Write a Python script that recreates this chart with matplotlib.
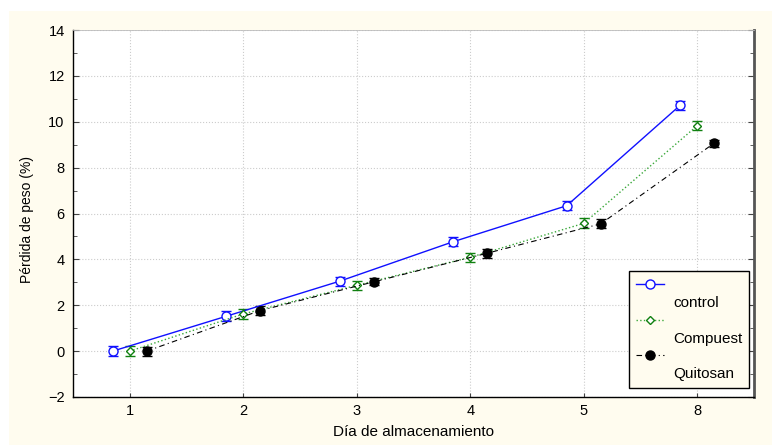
import numpy as np
import matplotlib
matplotlib.use('Agg')
import matplotlib.pyplot as plt
from matplotlib.patches import Rectangle
from matplotlib.lines import Line2D

plt.rcParams['font.family'] = ['Liberation Sans', 'DejaVu Sans']

# data
dias = ['1', '2', '3', '4', '5', '8']
series = ['control', 'Compuest', 'Quitosan']
control = [0.0, 1.52, 3.05, 4.77, 6.34, 10.72]
control_err = [0.22, 0.22, 0.2, 0.2, 0.2, 0.2]
compuest = [0.0, 1.62, 2.87, 4.09, 5.57, 9.83]
compuest_err = [0.22, 0.2, 0.2, 0.2, 0.22, 0.2]
quitosan = [0.0, 1.77, 3.02, 4.27, 5.55, 9.07]
quitosan_err = [0.2, 0.2, 0.15, 0.2, 0.2, 0.15]

fig = plt.figure(figsize=(7.72, 4.45), dpi=100)
# cream background panel
fig.patches.append(Rectangle((9/772, 0), 1 - 9/772, 1 - 11/445, transform=fig.transFigure,
                             facecolor='#fffcef', edgecolor='none', zorder=-10))

ax = fig.add_axes([73/772, 1 - 397/445, (754 - 73)/772, (397 - 30)/445])
ax.set_facecolor('white')

x = np.arange(1, len(dias) + 1)
off = 0.15

styles = [
    dict(color='#1010ff', linestyle='-', linewidth=1, marker='o', markersize=6.5,
         markerfacecolor='white', markeredgecolor='#1010ff', markeredgewidth=1),
    dict(color='#3aa83a', linestyle=':', linewidth=1, marker='D', markersize=4.5,
         markerfacecolor='white', markeredgecolor='#108010', markeredgewidth=1),
    dict(color='black', linestyle=(0, (5, 3, 1, 3)), linewidth=0.8, marker='o', markersize=6.5,
         markerfacecolor='black', markeredgecolor='black'),
]
ecolors = ['#1010ff', '#108010', 'black']

for i, (vals, errs) in enumerate([(control, control_err), (compuest, compuest_err),
                                  (quitosan, quitosan_err)]):
    ax.errorbar(x + (i - 1) * off, vals, yerr=errs, ecolor=ecolors[i], capsize=3.5,
                elinewidth=1, zorder=4, **styles[i])

ax.set_xlim(0.5, len(dias) + 0.5)
ax.set_ylim(-2, 14)
ax.set_xticks(x)
ax.set_xticklabels(dias)
ax.set_yticks(np.arange(-2, 15, 2))
ax.set_yticks(np.arange(-2, 15, 1), minor=True)
ax.grid(True, which='major', linestyle=':', color='#cccccc', linewidth=0.8)

ax.tick_params(axis='both', which='both', direction='in', labelsize=10.5, color='#444444')
ax.tick_params(axis='y', which='both', right=True)
ax.tick_params(axis='y', which='major', length=4, pad=6)
ax.tick_params(axis='y', which='minor', length=3)
ax.tick_params(axis='x', which='major', length=3, pad=5)

for side in ['left', 'bottom']:
    ax.spines[side].set_color('black')
    ax.spines[side].set_linewidth(1)
ax.spines['right'].set_color('#555555')
ax.spines['right'].set_linewidth(2)
ax.spines['top'].set_color('#bbbbbb')
ax.spines['top'].set_linewidth(0.6)

ax.set_xlabel('Día de almacenamiento', fontsize=11, labelpad=5)
ax.set_ylabel('Pérdida de peso (%)', fontsize=10)
ax.yaxis.set_label_coords(-0.057, 0.484)

# legend: marker line on one row, name on the row below
handles, labels = [], []
for name, st in zip(series, styles):
    handles += [Line2D([], [], **st), Line2D([], [], linestyle='none')]
    labels += ['', name]

leg = ax.legend(handles, labels, loc='lower right', bbox_to_anchor=(0.993, 0.024), fontsize=11,
                frameon=True, fancybox=False, framealpha=1, edgecolor='black', facecolor='#fffcef',
                handlelength=1.85, handletextpad=0.6, labelspacing=0.25, borderpad=0.45,
                borderaxespad=0)
leg.get_frame().set_linewidth(1)

plt.savefig('out.png', dpi=100)
